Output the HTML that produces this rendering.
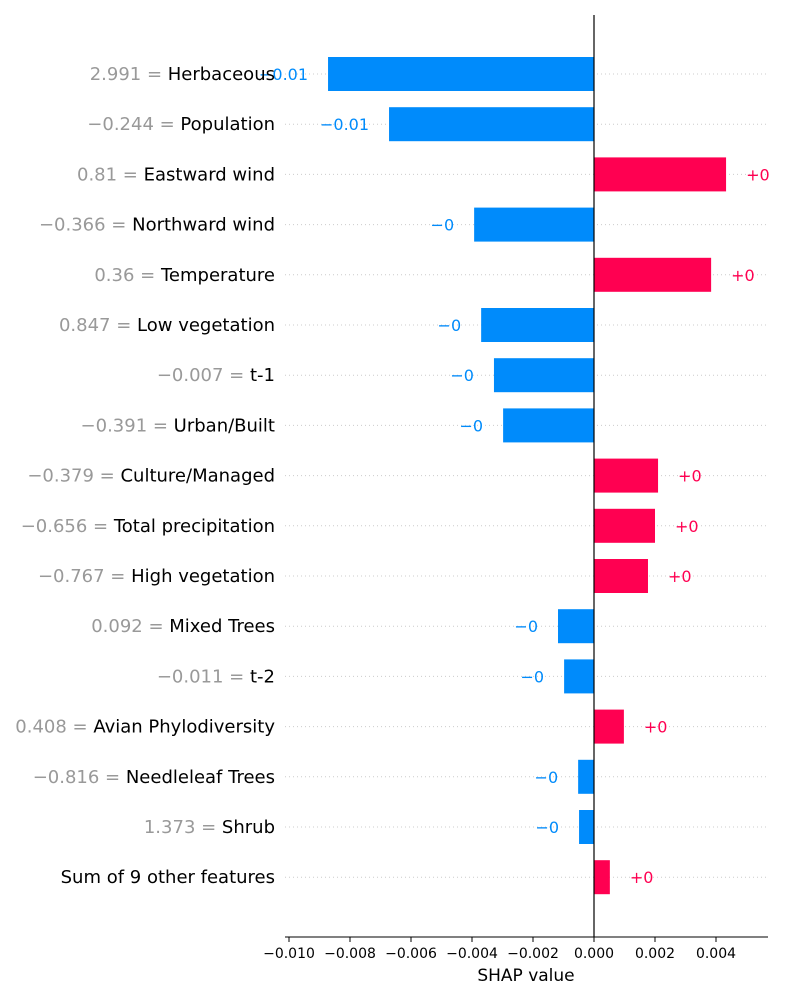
<!DOCTYPE html>
<html><head><meta charset="utf-8"><style>
body{margin:0;background:#fff;font-family:"Liberation Sans","DejaVu Sans",sans-serif}
</style></head><body>
<svg id="chart" width="800" height="1000" xmlns="http://www.w3.org/2000/svg" font-family="DejaVu Sans, Liberation Sans, sans-serif"></svg>
<script>
const featureNames=["Herbaceous","Population","Eastward wind","Northward wind","Temperature","Low vegetation","t-1","Urban/Built","Culture/Managed","Total precipitation","High vegetation","Mixed Trees","t-2","Avian Phylodiversity","Needleleaf Trees","Shrub","Sum of 9 other features"];
const featureValues=["2.991","\u22120.244","0.81","\u22120.366","0.36","0.847","\u22120.007","\u22120.391","\u22120.379","\u22120.656","\u22120.767","0.092","\u22120.011","0.408","\u22120.816","1.373",""];
const shapValues=[-0.00872,-0.00672,0.00433,-0.00393,0.00384,-0.00370,-0.00328,-0.00298,0.00210,0.00200,0.00177,-0.00118,-0.00098,0.00098,-0.00052,-0.00049,0.00052];
const valueLabels=["\u22120.01","\u22120.01","+0","\u22120","+0","\u22120","\u22120","\u22120","+0","+0","+0","\u22120","\u22120","+0","\u22120","\u22120","+0"];
const xTicks=[-0.010,-0.008,-0.006,-0.004,-0.002,0.000,0.002,0.004];
const xTickLabels=["\u22120.010","\u22120.008","\u22120.006","\u22120.004","\u22120.002","0.000","0.002","0.004"];

const svg=document.getElementById('chart');
const NS="http://www.w3.org/2000/svg";
const x0=594, kx=30500;
const xs=v=>x0+v*kx;
const ys=i=>74+i*50.2;
function mk(t,a,txt){const e=document.createElementNS(NS,t);for(const k in a)e.setAttribute(k,a[k]);if(txt!==undefined)e.textContent=txt;svg.appendChild(e);return e;}

shapValues.forEach((v,i)=>{
  const y=ys(i);
  const g=mk('line',{x1:285,x2:768,y1:y,y2:y,stroke:'#ccc','stroke-dasharray':'1,3','stroke-width':1});
  
  
  const pos=v>=0, col=pos?'#ff0051':'#008bfb';
  const b=mk('rect',{x:Math.min(xs(v),x0),y:y-17,width:Math.abs(xs(v)-x0),height:34,fill:col});
  
  
  const vl=mk('text',{x:pos?xs(v)+20:xs(v)-20,y:y+6,'font-size':16,fill:col,'text-anchor':pos?'start':'end'},valueLabels[i]);
  
  
  const lab=mk('text',{x:275,y:y+6,'font-size':18,'text-anchor':'end',fill:'#000'});
  
  
  if(featureValues[i]!==""){const s=document.createElementNS(NS,'tspan');s.setAttribute('fill','#999');s.textContent=featureValues[i]+' = ';lab.appendChild(s);}
  const s2=document.createElementNS(NS,'tspan');s2.textContent=featureNames[i];lab.appendChild(s2);
});
const zl=mk('line',{x1:x0,x2:x0,y1:15,y2:937,stroke:'#000','stroke-width':1.2});


const ax=mk('line',{x1:285,x2:768,y1:937,y2:937,stroke:'#000','stroke-width':1});


xTicks.forEach((t,i)=>{
  const tk=mk('line',{x1:xs(t),x2:xs(t),y1:937,y2:942,stroke:'#000'});
  
  
  const tl=mk('text',{x:xs(t),y:958,'font-size':14,'text-anchor':'middle'},xTickLabels[i]);
  
  
});
const xt=mk('text',{x:526,y:981,'font-size':17,'text-anchor':'middle'},'SHAP value');


</script>
</body></html>
